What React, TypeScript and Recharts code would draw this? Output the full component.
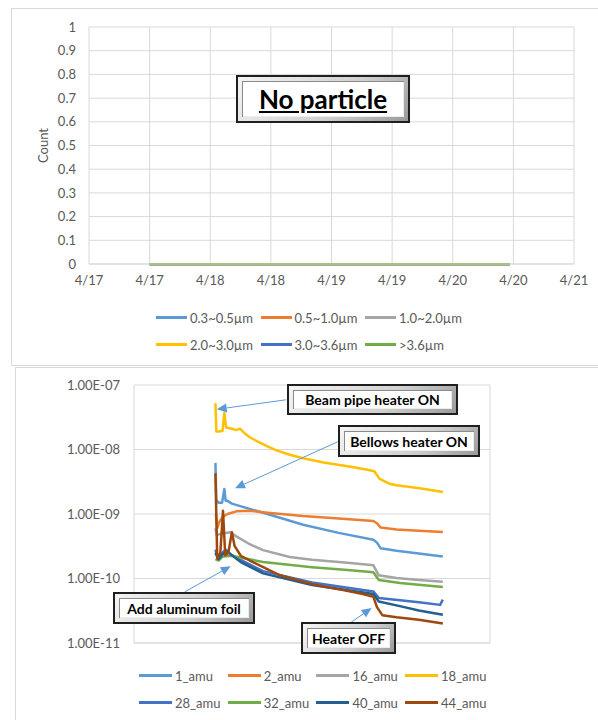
import React from "react";
import { LineChart, Line, XAxis, YAxis, CartesianGrid, Legend, ReferenceLine } from "recharts";

const FONT = 'Lato, "Open Sans", sans-serif';
const GRID = "#D9D9D9";
const TEXT = "#595959";

// ---- top chart: particle counter (all zero) ----
const particleDays = [0.5, 1.0, 1.5, 2.0, 2.5, 3.0, 3.47];
const count03to05 = [0, 0, 0, 0, 0, 0, 0];
const count05to10 = [0, 0, 0, 0, 0, 0, 0];
const count10to20 = [0, 0, 0, 0, 0, 0, 0];
const count20to30 = [0, 0, 0, 0, 0, 0, 0];
const count30to36 = [0, 0, 0, 0, 0, 0, 0];
const countOver36 = [0, 0, 0, 0, 0, 0, 0];
const particleSeries = [
  { key: "a", name: "0.3~0.5µm", color: "#5B9BD5", values: count03to05 },
  { key: "b", name: "0.5~1.0µm", color: "#ED7D31", values: count05to10 },
  { key: "c", name: "1.0~2.0µm", color: "#A5A5A5", values: count10to20 },
  { key: "d", name: "2.0~3.0µm", color: "#FFC000", values: count20to30 },
  { key: "e", name: "3.0~3.6µm", color: "#4472C4", values: count30to36 },
  { key: "f", name: ">3.6µm", color: "#70AD47", values: countOver36 },
];
const dayTicks = [0, 0.5, 1, 1.5, 2, 2.5, 3, 3.5, 4];
const countTicks = [0, 0.1, 0.2, 0.3, 0.4, 0.5, 0.6, 0.7, 0.8, 0.9, 1];

// ---- bottom chart: RGA partial pressures [day, pressure] ----
const amu1 = [[0.915, 6.2e-9], [0.925, 1.65e-9], [0.95, 1.5e-9], [0.99, 1.5e-9], [1.015, 2.45e-9], [1.03, 1.6e-9], [1.05, 1.6e-9], [1.1, 1.45e-9], [1.3, 1.2e-9], [1.5, 1.0e-9], [1.9, 6.8e-10], [2.3, 5.1e-10], [2.69, 4.0e-10], [2.73, 3.6e-10], [2.77, 2.95e-10], [2.95, 2.7e-10], [3.2, 2.45e-10], [3.47, 2.2e-10]];
const amu2 = [[0.92, 1.0e-9], [0.935, 6.0e-10], [0.96, 7.6e-10], [1.0, 9.1e-10], [1.05, 1.0e-9], [1.15, 1.1e-9], [1.3, 1.12e-9], [1.5, 1.05e-9], [1.9, 9.3e-10], [2.3, 8.5e-10], [2.69, 7.8e-10], [2.73, 7.2e-10], [2.77, 6.2e-10], [2.95, 5.75e-10], [3.2, 5.5e-10], [3.47, 5.25e-10]];
const amu16 = [[0.915, 6.0e-10], [0.93, 4.7e-10], [0.97, 4.9e-10], [1.0, 5.0e-10], [1.08, 5.2e-10], [1.15, 4.5e-10], [1.3, 3.4e-10], [1.45, 2.75e-10], [1.75, 2.15e-10], [2.0, 1.95e-10], [2.4, 1.75e-10], [2.69, 1.6e-10], [2.75, 1.12e-10], [2.95, 1.02e-10], [3.2, 9.5e-11], [3.47, 8.9e-11]];
const amu18 = [[0.915, 5.2e-8], [0.925, 1.9e-8], [0.96, 1.9e-8], [0.995, 1.95e-8], [1.015, 3.7e-8], [1.035, 2.2e-8], [1.1, 2.1e-8], [1.15, 2.0e-8], [1.19, 2.1e-8], [1.25, 1.75e-8], [1.3, 1.55e-8], [1.38, 1.35e-8], [1.5, 1.12e-8], [1.6, 9.7e-9], [1.75, 8.3e-9], [1.9, 7.3e-9], [2.13, 6.3e-9], [2.4, 5.5e-9], [2.61, 4.9e-9], [2.7, 4.6e-9], [2.76, 3.5e-9], [2.87, 2.95e-9], [2.95, 2.8e-9], [3.21, 2.5e-9], [3.47, 2.2e-9]];
const amu28 = [[0.915, 2.8e-10], [0.94, 2.1e-10], [0.98, 2.4e-10], [1.03, 2.8e-10], [1.08, 2.4e-10], [1.15, 2.1e-10], [1.45, 1.3e-10], [2.0, 8.7e-11], [2.4, 7.2e-11], [2.69, 6.3e-11], [2.75, 5.0e-11], [2.99, 4.6e-11], [3.2, 4.3e-11], [3.44, 3.9e-11], [3.47, 4.7e-11]];
const amu32 = [[0.915, 2.0e-10], [0.95, 1.9e-10], [1.0, 2.2e-10], [1.1, 2.25e-10], [1.45, 1.8e-10], [2.0, 1.5e-10], [2.4, 1.35e-10], [2.69, 1.25e-10], [2.75, 9.5e-11], [2.99, 8.5e-11], [3.2, 8.0e-11], [3.47, 7.4e-11]];
const amu40 = [[0.915, 2.5e-10], [0.95, 2.0e-10], [1.0, 2.4e-10], [1.05, 2.6e-10], [1.1, 2.3e-10], [1.2, 1.8e-10], [1.45, 1.2e-10], [2.0, 7.9e-11], [2.4, 6.6e-11], [2.69, 5.75e-11], [2.75, 4.4e-11], [3.0, 3.7e-11], [3.2, 3.2e-11], [3.47, 2.75e-11]];
const amu44 = [[0.915, 4.3e-9], [0.935, 2.05e-10], [0.97, 2.5e-10], [1.0, 1.12e-9], [1.025, 2.3e-10], [1.06, 2.5e-10], [1.1, 5.2e-10], [1.13, 3.2e-10], [1.2, 2.25e-10], [1.3, 1.9e-10], [1.64, 1.12e-10], [2.01, 8.1e-11], [2.35, 6.6e-11], [2.57, 5.75e-11], [2.69, 5.2e-11], [2.73, 3.6e-11], [2.79, 2.7e-11], [2.95, 2.5e-11], [3.2, 2.3e-11], [3.47, 2.0e-11]];
const gasSeries = [
  { name: "1_amu", color: "#5B9BD5", points: amu1 },
  { name: "2_amu", color: "#ED7D31", points: amu2 },
  { name: "16_amu", color: "#A5A5A5", points: amu16 },
  { name: "18_amu", color: "#FFC000", points: amu18 },
  { name: "28_amu", color: "#4472C4", points: amu28 },
  { name: "32_amu", color: "#70AD47", points: amu32 },
  { name: "40_amu", color: "#255E91", points: amu40 },
  { name: "44_amu", color: "#9E480E", points: amu44 },
];
const elapsedTicks = [0, 1, 2, 3, 4];
const pressureTicks = [1e-11, 1e-10, 1e-9, 1e-8, 1e-7];

// callout arrows: [from, to] in data coords
const arrows = [
  [[1.71, 5.9e-8], [0.93, 4.2e-8]],
  [[2.29, 1.32e-8], [1.135, 2.5e-9]],
  [[0.57, 6.2e-11], [1.087, 1.55e-10]],
  [[2.42, 2.0e-11], [2.67, 3.5e-11]],
];

const sci = (v: number) => {
  const [m, e] = v.toExponential(2).toUpperCase().split("E");
  const n = Number(e);
  return `${m}E${n < 0 ? "-" : "+"}${String(Math.abs(n)).padStart(2, "0")}`;
};

const ArrowShape = (p: any) => {
  const { x1, y1, x2, y2 } = p;
  const a = Math.atan2(y2 - y1, x2 - x1);
  const L = 10, W = 4.5;
  const bx = x2 - L * Math.cos(a), by = y2 - L * Math.sin(a);
  const nx = -Math.sin(a) * W, ny = Math.cos(a) * W;
  return (
    <g>
      <line x1={x1} y1={y1} x2={bx} y2={by} stroke="#5B9BD5" strokeWidth={1} />
      <polygon points={`${x2},${y2} ${bx + nx},${by + ny} ${bx - nx},${by - ny}`} fill="#5B9BD5" />
    </g>
  );
};

// Excel-style two-row legend, items taken in series order
function makeLegend(items: { name: string; color: string }[], perRow: number, startX: number, itemW: number, lineW: number, padTop: number, height: number) {
  return () => {
    const rows: { name: string; color: string }[][] = [];
    for (let i = 0; i < items.length; i += perRow) rows.push(items.slice(i, i + perRow));
    return (
      <div style={{ width: 598, height, paddingTop: padTop, boxSizing: "border-box" }}>
        {rows.map((row, ri) => (
          <div key={ri} style={{ display: "flex", alignItems: "center", height: 27, paddingLeft: startX }}>
            {row.map((it) => (
              <div key={it.name} style={{ width: itemW, display: "flex", alignItems: "center" }}>
                <span style={{ display: "inline-block", width: lineW, height: 3, background: it.color }} />
                <span style={{ marginLeft: 3, fontSize: 13, color: TEXT, fontFamily: FONT }}>{it.name}</span>
              </div>
            ))}
          </div>
        ))}
      </div>
    );
  };
}

function Callout({ left, top, width, height, fontSize, underline, children }: any) {
  return (
    <div
      style={{
        position: "absolute", left, top, width, height, boxSizing: "border-box",
        border: "2px solid #1f1f1f", padding: 4,
        background: "linear-gradient(135deg, #f4f4f4 0%, #d0d0d0 60%, #9a9a9a 100%)",
      }}
    >
      <div
        style={{
          width: "100%", height: "100%", boxSizing: "border-box", background: "#fff",
          boxShadow: "inset 1px 1px 0 #8a8a8a, inset -1px -1px 0 #ededed",
          display: "flex", alignItems: "center", justifyContent: "center",
          fontWeight: 700, fontSize, color: "#000", fontFamily: FONT,
          textDecoration: underline ? "underline" : "none", whiteSpace: "nowrap",
        }}
      >
        {children}
      </div>
    </div>
  );
}

function ParticleChart() {
  const rows = particleDays.map((t, i) => {
    const r: any = { t };
    particleSeries.forEach((s) => (r[s.key] = s.values[i]));
    return r;
  });
  return (
    <LineChart width={598} height={360} data={rows} margin={{ top: 27, right: 24, left: 0, bottom: 0 }} style={{ fontFamily: FONT }}>
      <CartesianGrid stroke={GRID} />
      <XAxis
        dataKey="t" type="number" domain={[0, 4]} ticks={dayTicks} height={30}
        tickFormatter={(t) => `4/${17 + Math.floor(t)}`}
        axisLine={{ stroke: GRID }} tickLine={false} tickMargin={6}
        tick={{ fill: TEXT, fontSize: 13 }}
      />
      <YAxis
        type="number" domain={[0, 1]} ticks={countTicks} width={89}
        axisLine={false} tickLine={false} tickSize={6} tickMargin={7}
        tick={{ fill: TEXT, fontSize: 13 }}
        label={{ value: "Count", angle: -90, position: "insideLeft", offset: 43, style: { textAnchor: "middle", fill: TEXT, fontSize: 13 } }}
      />
      <Legend verticalAlign="bottom" wrapperStyle={{ left: 0, width: 598 }} content={makeLegend(particleSeries, 3, 156, 104.5, 31, 10, 66)} />
      {particleSeries.map((s) => (
        <Line key={s.key} dataKey={s.key} name={s.name} stroke={s.color} strokeWidth={2.25} dot={false} isAnimationActive={false} />
      ))}
    </LineChart>
  );
}

function GasChart() {
  return (
    <LineChart width={598} height={360} margin={{ top: 25, right: 108, left: 0, bottom: 4 }} style={{ fontFamily: FONT }}>
      <CartesianGrid stroke={GRID} />
      <XAxis
        dataKey="x" type="number" domain={[0, 4]} ticks={elapsedTicks} height={10}
        tick={false} tickLine={false} axisLine={{ stroke: GRID }} allowDataOverflow
      />
      <YAxis
        type="number" scale="log" domain={[1e-11, 1e-7]} ticks={pressureTicks} width={134}
        allowDataOverflow axisLine={false} tickLine={false} tickSize={6} tickMargin={8}
        tickFormatter={sci} tick={{ fill: TEXT, fontSize: 13 }}
      />
      <Legend verticalAlign="bottom" wrapperStyle={{ left: 0, width: 598 }} content={makeLegend(gasSeries, 4, 139, 88.7, 33, 9, 63)} />
      {gasSeries.map((s) => (
        <Line
          key={s.name}
          data={s.points.map(([x, v]) => ({ x, v }))}
          dataKey="v" name={s.name} stroke={s.color} strokeWidth={2.5}
          strokeLinejoin="round" dot={false} isAnimationActive={false}
        />
      ))}
      {arrows.map(([from, to], i) => (
        <ReferenceLine
          key={i}
          segment={[{ x: from[0], y: from[1] }, { x: to[0], y: to[1] }]}
          ifOverflow="visible"
          shape={ArrowShape}
        />
      ))}
    </LineChart>
  );
}

export default function App() {
  return (
    <div style={{ position: "absolute", left: 0, top: 0, width: 598, height: 720, overflow: "hidden", background: "#fff", fontFamily: FONT }}>
      <div style={{ position: "absolute", left: 11, top: 8, width: 620, height: 356, borderLeft: `1px solid ${GRID}`, borderTop: `1px solid ${GRID}`, borderBottom: `1px solid ${GRID}` }} />
      <div style={{ position: "absolute", left: 15, top: 367, width: 620, height: 400, borderLeft: `1px solid ${GRID}`, borderTop: `1px solid ${GRID}` }} />
      <div style={{ position: "absolute", left: 0, top: 0 }}>
        <ParticleChart />
      </div>
      <div style={{ position: "absolute", left: 0, top: 360 }}>
        <GasChart />
      </div>
      <Callout left={236} top={75} width={174} height={48} fontSize={26} underline>No particle</Callout>
      <Callout left={287} top={384} width={171} height={31} fontSize={14}>Beam pipe heater ON</Callout>
      <Callout left={338} top={425} width={142} height={32} fontSize={14}>Bellows heater ON</Callout>
      <Callout left={113} top={592} width={142} height={32} fontSize={14}>Add aluminum foil</Callout>
      <Callout left={301} top={622} width={95} height={32} fontSize={14}>Heater OFF</Callout>
    </div>
  );
}
